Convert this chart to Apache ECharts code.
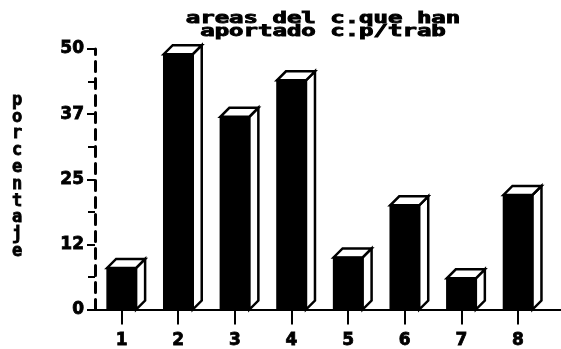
<!DOCTYPE html>
<html>
<head>
<meta charset="utf-8">
<style>
  html, body { margin: 0; padding: 0; background: #fff; }
  #chart { width: 561px; height: 349px; }
</style>
<script src="https://cdn.jsdelivr.net/npm/echarts@6/dist/echarts.min.js"></script>
</head>
<body>
<div id="chart"></div>
<script>
// Areas and the share (%) each has contributed
const categories = [1, 2, 3, 4, 5, 6, 7, 8];
const percentages = [8, 49, 37, 44, 10, 20, 6, 22];
const titleLines = ['areas del c.que han', 'aportado c.p/trab'];
const yAxisTitle = 'porcentaje';

const chart = echarts.init(document.getElementById('chart'), null, { renderer: 'canvas' });

const FACE_W = 29;   // front face width in px
const DEPTH_X = 9;   // 3D offset
const DEPTH_Y = 9;
const INK = '#000';

function renderBox(params, api) {
  const cat = api.value(0);
  const val = api.value(1);
  const base = api.coord([cat, 0]);
  const top = api.coord([cat, val]);
  const xl = base[0] - FACE_W / 2;
  const xr = base[0] + FACE_W / 2;
  const yt = top[1];
  const yb = base[1];
  const edge = { fill: '#fff', stroke: INK, lineWidth: 2.5 };
  return {
    type: 'group',
    children: [
      { type: 'polygon', shape: { points: [[xr, yt], [xr + DEPTH_X, yt - DEPTH_Y], [xr + DEPTH_X, yb - DEPTH_Y], [xr, yb]] }, style: edge },
      { type: 'polygon', shape: { points: [[xl, yt], [xr, yt], [xr + DEPTH_X, yt - DEPTH_Y], [xl + DEPTH_X, yt - DEPTH_Y]] }, style: edge },
      { type: 'rect', shape: { x: xl, y: yt, width: FACE_W, height: yb - yt }, style: { fill: INK, stroke: INK, lineWidth: 1.5 } }
    ]
  };
}

// heavy, blocky lettering for axis labels
const labelFont = {
  color: INK, fontFamily: 'DejaVu Sans', fontWeight: 'bold', fontSize: 17,
  textBorderColor: INK, textBorderWidth: 0.8
};

chart.setOption({
  backgroundColor: '#fff',
  animation: false,
  grid: { left: 95, right: 0, top: 49, bottom: 39 },
  xAxis: {
    type: 'value',
    min: 0.53,
    max: 8.76,
    splitLine: { show: false },
    axisLine: { show: true, lineStyle: { color: INK, width: 2 } },
    axisTick: { show: true, customValues: categories, length: 15, lineStyle: { color: INK, width: 2 } },
    axisLabel: Object.assign({ customValues: categories, margin: 22, formatter: v => String(Math.round(v)) }, labelFont)
  },
  yAxis: {
    type: 'value',
    min: 0,
    max: 50,
    interval: 12.5,
    splitLine: { show: false },
    axisLine: { show: true, lineStyle: { color: INK, width: 3, type: [10, 7] } },
    axisTick: { show: true, length: 8, lineStyle: { color: INK, width: 2 } },
    minorTick: { show: true, splitNumber: 2, length: 7, lineStyle: { color: INK, width: 2 } },
    axisLabel: Object.assign({ margin: 11, formatter: v => String(Math.floor(v)) }, labelFont)
  },
  graphic: [
    {
      type: 'text',
      x: 323, y: 13,
      scaleX: 1.6,
      style: {
        text: titleLines.join('\n'),
        align: 'center',
        verticalAlign: 'top',
        font: 'bold 15px "DejaVu Sans Mono"',
        lineHeight: 13,
        fill: INK,
        stroke: INK,
        lineWidth: 0.9
      }
    },
    {
      type: 'text',
      x: 17, y: 92,
      style: {
        text: yAxisTitle.split('').join('\n'),
        align: 'center',
        verticalAlign: 'top',
        font: 'bold 17px "DejaVu Sans Mono"',
        lineHeight: 16.8,
        fill: INK,
        stroke: INK,
        lineWidth: 0.8
      }
    }
  ],
  series: [{
    type: 'custom',
    renderItem: renderBox,
    data: categories.map((c, i) => [c, percentages[i]]),
    encode: { x: 0, y: 1 },
    clip: false
  }]
});
</script>
</body>
</html>
